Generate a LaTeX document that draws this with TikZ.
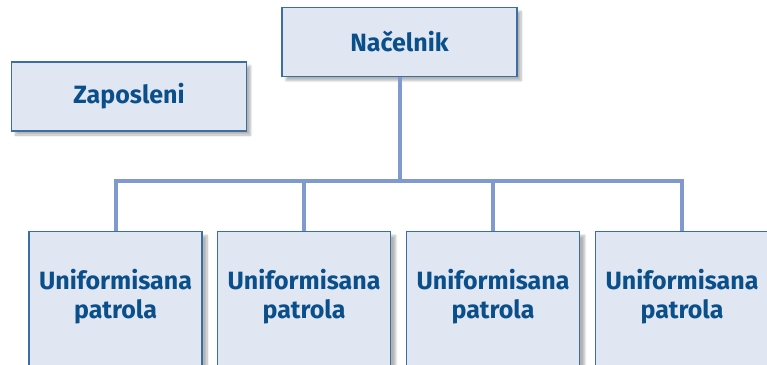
\documentclass[tikz,border=0pt]{standalone}
\usepackage{fontspec}
\setmainfont{Fira Sans}
\usetikzlibrary{shadows.blur}

\definecolor{boxfill}{HTML}{E0E6F2}
\definecolor{boxline}{HTML}{3A6EA5}
\definecolor{boxtext}{HTML}{0B4F8A}
\definecolor{linkcol}{HTML}{8099CF}

\tikzset{
	chief/.style={draw=boxline, line width=1.3pt, fill=boxfill, minimum width=235pt, minimum height=69pt,
		blur shadow={shadow xshift=4pt, shadow yshift=-4pt, shadow blur steps=8, shadow opacity=30},
		text=boxtext, font=\fontsize{25}{29}\selectfont\bfseries},
	unit/.style={draw=boxline, line width=1.3pt, fill=boxfill, minimum width=173pt, minimum height=180pt, anchor=north,
		blur shadow={shadow xshift=5pt, shadow yshift=-4pt, shadow blur steps=8, shadow opacity=30}},
	unitlabel/.style={align=center, text=boxtext, font=\fontsize{25}{29}\selectfont\bfseries},
	link/.style={draw=linkcol, line width=4pt}
}

\begin{document}
\begin{tikzpicture}[x=1pt,y=-1pt]

	\clip (0,0) rectangle (767,364);

	\coordinate (bus) at (0,181);

	\node [unit] (u1) at (115.5,231) {};
	\node [unit] (u2) at (304,231) {};
	\node [unit] (u3) at (493,231) {};
	\node [unit] (u4) at (682,231) {};

	\node [unitlabel] (t1) at ([yshift=-66pt]u1.north) {Uniformisana\\patrola};
	\node [unitlabel] (t2) at ([yshift=-66pt]u2.north) {Uniformisana\\patrola};
	\node [unitlabel] (t3) at ([yshift=-66pt]u3.north) {Uniformisana\\patrola};
	\node [unitlabel] (t4) at ([yshift=-66pt]u4.north) {Uniformisana\\patrola};

	\node [chief] (nac) at (399.5,42) {Načelnik};
	\node [chief] (zap) at (129,96.5) {Zaposleni};

	\draw [link] (nac.south) -- (nac.south |- bus);
	\draw [link] (u1.north) -- (u1.north |- bus) -- (u4.north |- bus) -- (u4.north);
	\draw [link] (u2.north) -- (u2.north |- bus);
	\draw [link] (u3.north) -- (u3.north |- bus);

\end{tikzpicture}
\end{document}
